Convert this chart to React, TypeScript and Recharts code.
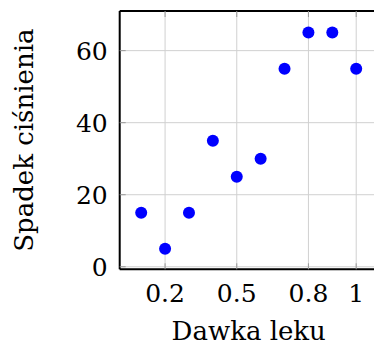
import { ScatterChart, Scatter, XAxis, YAxis, CartesianGrid, Label } from "recharts";

const doses = [0.1, 0.2, 0.3, 0.4, 0.5, 0.6, 0.7, 0.8, 0.9, 1.0];
const drops = [15, 5, 15, 35, 25, 30, 55, 65, 65, 55];
const xTicks = [0.2, 0.5, 0.8, 1];
const yTicks = [0, 20, 40, 60];

const data = doses.map((d, i) => ({ dose: d, drop: drops[i] }));

const font = "'DejaVu Serif', serif";
const tickGray = "#999";

const XTick = (props: any) => {
  const { x, y, payload } = props;
  return (
    <g>
      <line x1={x} y1={y} x2={x} y2={y - 6} stroke={tickGray} />
      <text x={x} y={y + 33} textAnchor="middle" fontFamily={font} fontSize={25} fill="#000">
        {String(payload.value)}
      </text>
    </g>
  );
};

const YTick = (props: any) => {
  const { x, y, payload } = props;
  return (
    <g>
      <line x1={x} y1={y} x2={x + 6} y2={y} stroke={tickGray} />
      <text x={x - 12} y={y} dy="0.36em" textAnchor="end" fontFamily={font} fontSize={25} fill="#000">
        {String(payload.value)}
      </text>
    </g>
  );
};

// inward tick marks on the top edge
const TopTick = (props: any) => {
  const { x, y } = props;
  return <line x1={x} y1={y} x2={x} y2={y + 6} stroke={tickGray} />;
};

const Dot = (p: any) => <circle cx={p.cx} cy={p.cy} r={6} fill="#0000ff" />;

export default function App() {
  return (
    <div style={{ position: "absolute", left: 0, top: 0, width: 374, height: 347, overflow: "hidden", background: "#fff" }}>
      <ScatterChart width={390} height={347} margin={{ top: 10, right: 12.3, bottom: 0, left: 0 }}>
        <CartesianGrid stroke="#d0d0d0" strokeWidth={1} />
        <XAxis
          type="number"
          dataKey="dose"
          domain={[0.01, 1.09]}
          ticks={xTicks}
          allowDataOverflow
          height={77.7}
          tickSize={0}
          tickMargin={0}
          tickLine={false}
          axisLine={{ stroke: "#000", strokeWidth: 2 }}
          tick={<XTick />}
        >
          <Label
            content={({ viewBox }: any) => (
              <text
                x={viewBox.x + viewBox.width / 2}
                y={viewBox.y + 71}
                textAnchor="middle"
                fontFamily={font}
                fontSize={26}
                fill="#000"
              >
                Dawka leku
              </text>
            )}
          />
        </XAxis>
        <XAxis
          xAxisId="top"
          orientation="top"
          type="number"
          dataKey="dose"
          domain={[0.01, 1.09]}
          ticks={xTicks}
          allowDataOverflow
          height={1}
          tickSize={0}
          tickMargin={0}
          tickLine={false}
          tick={<TopTick />}
          axisLine={{ stroke: "#000", strokeWidth: 2 }}
        />
        <YAxis
          type="number"
          dataKey="drop"
          domain={[-0.7, 71]}
          ticks={yTicks}
          allowDataOverflow
          width={119.7}
          tickSize={0}
          tickMargin={0}
          tickLine={false}
          axisLine={{ stroke: "#000", strokeWidth: 2 }}
          tick={<YTick />}
        >
          <Label
            content={({ viewBox }: any) => {
              const cx = viewBox.x + 24;
              const cy = viewBox.y + viewBox.height / 2;
              return (
                <text
                  x={cx}
                  y={cy}
                  transform={`rotate(-90 ${cx} ${cy})`}
                  textAnchor="middle"
                  dominantBaseline="central"
                  fontFamily={font}
                  fontSize={26}
                  fill="#000"
                >
                  Spadek ciśnienia
                </text>
              );
            }}
          />
        </YAxis>
        <Scatter data={data} shape={<Dot />} isAnimationActive={false} />
      </ScatterChart>
    </div>
  );
}
